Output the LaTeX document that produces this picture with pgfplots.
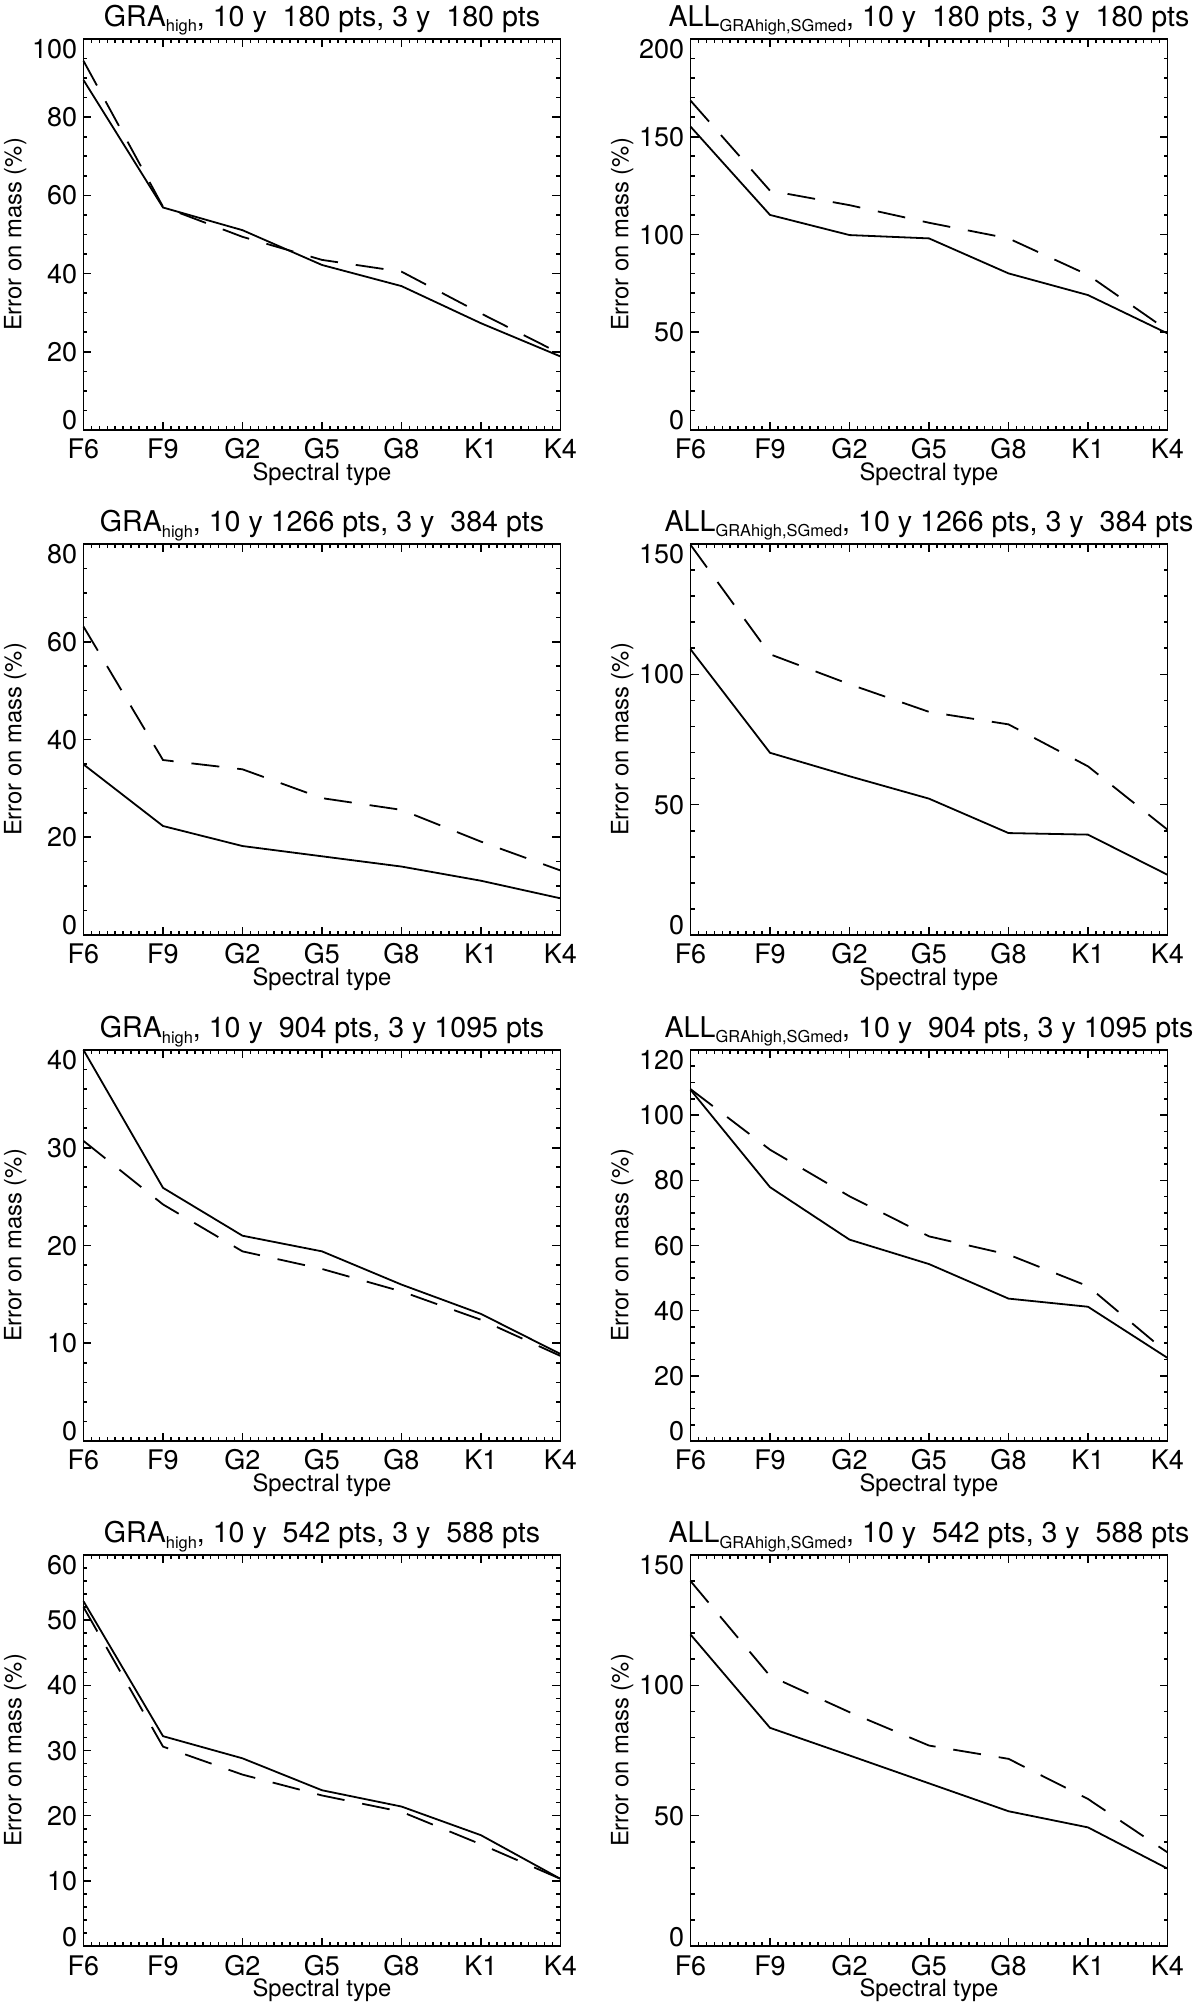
\documentclass[border=0pt]{standalone}
\usepackage{fontspec}
\setmainfont{TeX Gyre Heros}
\usepackage{pgfplots}
\pgfplotsset{compat=1.18}

\newcommand\ylab[1]{\smash{\raisebox{\ifnum\ticknum=0 0em\else\ifnum\ticknum=#1 -0.71em\else -0.355em\fi\fi}{\pgfmathprintnumber{\tick}}}}
\newcommand\sub[1]{\raisebox{-2.7pt}{\fontsize{8.2}{9}\selectfont #1}}
\newcommand\tks{\fontsize{13.5}{15}\selectfont}
\newcommand\lbs{\fontsize{11.9}{13}\selectfont}
\newcommand\tts{\fontsize{14.3}{16}\selectfont}

\pgfplotsset{
  panel/.style={
    scale only axis, width=238.5pt, height=195.5pt,
    anchor=south west,
    xmin=0, xmax=6, xtick={0,1,2,3,4,5,6},
    xticklabels={F6,F9,G2,G5,G8,K1,K4},
    minor x tick num=9,
    ymin=0,
    /pgf/number format/assume math mode=true,
    /pgf/number format/fixed, /pgf/number format/precision=0,
    tick align=inside,
    major tick length=4pt, minor tick length=2pt,
    axis line style={line width=0.9pt},
    every tick/.style={black, line width=0.8pt},
    xticklabel style={anchor=base, yshift=-14.5pt, inner sep=0pt, font=\tks},
    yticklabel style={anchor=east, inner sep=0pt, xshift=-3pt, font=\tks},
    xlabel={Spectral type},
    ylabel={Error on mass (\%)},
    xlabel style={at={(axis description cs:0.5,-0.1304)}, anchor=base, inner sep=0pt, font=\lbs},
    ylabel style={at={(axis description cs:-0.13,0.5)}, rotate=0, anchor=base, inner sep=0pt, font=\lbs},
    title style={at={(axis description cs:0.5,1.0317)}, anchor=base, yshift=-6pt, inner sep=0pt, font=\tts},
    clip=false,
  },
  sol/.style={black, line width=0.9pt, solid},
  das/.style={black, line width=0.9pt, dash pattern=on 14pt off 9pt},
}

\begin{document}
\begin{tikzpicture}
\useasboundingbox (0,0) rectangle (600pt,1007pt);

% Row 1 left
\begin{axis}[panel, at={(41.75pt,792pt)},
  ymax=100, ytick={0,20,...,100}, minor y tick num=3, yticklabel={\ylab{5}},
  title={GRA\sub{high}, 10 y\ \ 180 pts, 3 y\ \ 180 pts}]
\addplot[sol] coordinates {(0,89.5) (1,56.9) (2,51.1) (3,42.2) (4,36.8) (5,27.3) (6,18.8)};
\addplot[das] coordinates {(0,94.4) (1,57.1) (2,49.4) (3,43.5) (4,40.5) (5,29.8) (6,19.5)};
\end{axis}

% Row 1 right
\begin{axis}[panel, at={(345.25pt,792pt)},
  ymax=200, ytick={0,50,...,200}, minor y tick num=4, yticklabel={\ylab{4}},
  title={ALL\sub{GRAhigh,SGmed}, 10 y\ \ 180 pts, 3 y\ \ 180 pts}]
\addplot[sol] coordinates {(0,155.2) (1,110.0) (2,99.7) (3,98.0) (4,80.1) (5,69.0) (6,49.4)};
\addplot[das] coordinates {(0,168.5) (1,122.4) (2,115.0) (3,106.0) (4,98.0) (5,79.3) (6,51.0)};
\end{axis}

% Row 2 left
\begin{axis}[panel, at={(41.75pt,539.5pt)},
  ymax=80, ytick={0,20,...,80}, minor y tick num=3, yticklabel={\ylab{4}},
  title={GRA\sub{high}, 10 y 1266 pts, 3 y\ \ 384 pts}]
\addplot[sol] coordinates {(0,34.9) (1,22.3) (2,18.2) (3,16.1) (4,14.0) (5,11.1) (6,7.5)};
\addplot[das] coordinates {(0,63.1) (1,35.8) (2,33.9) (3,28.0) (4,25.6) (5,19.1) (6,13.2)};
\end{axis}

% Row 2 right
\begin{axis}[panel, at={(345.25pt,539.5pt)},
  ymax=150, ytick={0,50,...,150}, minor y tick num=4, yticklabel={\ylab{3}},
  title={ALL\sub{GRAhigh,SGmed}, 10 y 1266 pts, 3 y\ \ 384 pts}]
\addplot[sol] coordinates {(0,109.6) (1,69.9) (2,60.9) (3,52.3) (4,39.1) (5,38.5) (6,23.1)};
\addplot[das] coordinates {(0,149.7) (1,107.7) (2,96.2) (3,85.6) (4,80.8) (5,64.7) (6,40.4)};
\end{axis}

% Row 3 left
\begin{axis}[panel, at={(41.75pt,286.5pt)},
  ymax=40, ytick={0,10,...,40}, minor y tick num=4, yticklabel={\ylab{4}},
  title={GRA\sub{high}, 10 y\ \ 904 pts, 3 y 1095 pts}]
\addplot[sol] coordinates {(0,40.0) (1,25.9) (2,21.0) (3,19.4) (4,16.0) (5,13.0) (6,8.9)};
\addplot[das] coordinates {(0,30.7) (1,24.2) (2,19.4) (3,17.6) (4,15.3) (5,12.4) (6,8.7)};
\end{axis}

% Row 3 right
\begin{axis}[panel, at={(345.25pt,286.5pt)},
  ymax=120, ytick={0,20,...,120}, minor y tick num=3, yticklabel={\ylab{6}},
  title={ALL\sub{GRAhigh,SGmed}, 10 y\ \ 904 pts, 3 y 1095 pts}]
\addplot[sol] coordinates {(0,107.8) (1,77.9) (2,61.8) (3,54.3) (4,43.7) (5,41.2) (6,25.5)};
\addplot[das] coordinates {(0,108.0) (1,89.4) (2,75.1) (3,62.8) (4,57.2) (5,47.5) (6,27.0)};
\end{axis}

% Row 4 left
\begin{axis}[panel, at={(41.75pt,34pt)},
  ymax=60, ytick={0,10,...,60}, minor y tick num=4, yticklabel={\ylab{6}},
  title={GRA\sub{high}, 10 y\ \ 542 pts, 3 y\ \ 588 pts}]
\addplot[sol] coordinates {(0,52.9) (1,32.2) (2,28.8) (3,23.9) (4,21.4) (5,17.0) (6,10.3)};
\addplot[das] coordinates {(0,52.0) (1,30.6) (2,26.3) (3,23.1) (4,20.6) (5,15.6) (6,10.3)};
\end{axis}

% Row 4 right
\begin{axis}[panel, at={(345.25pt,34pt)},
  ymax=150, ytick={0,50,...,150}, minor y tick num=4, yticklabel={\ylab{3}},
  title={ALL\sub{GRAhigh,SGmed}, 10 y\ \ 542 pts, 3 y\ \ 588 pts}]
\addplot[sol] coordinates {(0,119.5) (1,83.7) (2,73.1) (3,62.4) (4,51.7) (5,45.5) (6,29.7)};
\addplot[das] coordinates {(0,140.0) (1,103.6) (2,89.7) (3,76.9) (4,71.8) (5,56.4) (6,35.9)};
\end{axis}
\end{tikzpicture}
\end{document}
